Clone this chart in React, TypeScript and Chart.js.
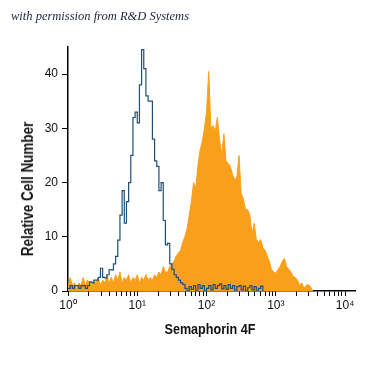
import React, { useEffect, useRef } from "react";
import { Chart, registerables } from "chart.js";

Chart.register(...registerables);

const CAPTION = "with permission from R&D Systems";
const X_TITLE = "Semaphorin 4F";
const Y_TITLE = "Relative Cell Number";

// channel grid: log-spaced bins starting at 10^0
const BINS_PER_DECADE = 32;
const X_MIN = 1;
const X_MAX = 13900;
const Y_MAX = 45;
const Y_TICKS = [0, 10, 20, 30, 40];
const DECADES = [1, 10, 100, 1000];
const MINOR_MULTIPLIERS = [1, 2, 3, 4, 5, 6, 7, 8, 9];
const DECADE_LABELS: Record<string, string> = {
  "1": "10⁰",
  "10": "10¹",
  "100": "10²",
  "1000": "10³",
  "10000": "10⁴",
};

// isotype control (blue outline)
const isotype = [
  0.5, 1, 0.5, 1, 1, 0.5, 1, 1, 0.5, 1,
  1.7, 1.5, 2, 2, 2.5, 4.2, 2.5, 2.4, 3, 3.9,
  3.9, 5, 6.4, 9.4, 14, 18.5, 12.5, 16.5, 20, 25,
  32, 33, 31, 38, 44.5, 41, 36, 35, 35, 28,
  24, 23, 18.5, 20, 13, 8.5, 8.8, 5, 4, 3,
  2.5, 2, 1.5, 1.2, 0.5, 0, 0.8, 0.3, 1, 0,
  1.2, 0.5, 1, 0, 0.5, 1, 0.2, 1.2, 0.5, 1,
  1.3, 0.4, 1, 0.3, 1.2, 0.5, 1, 0, 0.8, 1,
  0.2, 0.9, 0, 0.6, 1, 0.2, 0.8, 0, 0.5, 0.9,
  0,
];

// Semaphorin 4F stained (orange filled)
const semaphorin = [
  0.5, 2.5, 1, 1.5, 0.5, 1.5, 1, 2.5, 1, 2,
  1.5, 1, 2, 1.5, 2.5, 1, 2, 1.5, 3, 1.5,
  2.5, 1.5, 3, 2, 3.5, 1.5, 2.5, 2, 3, 1.5,
  2.5, 2, 3, 1.5, 2.5, 2, 3, 2, 2.5, 2,
  3, 2.5, 3.5, 3, 4.5, 3.5, 3.5, 4.5, 5, 5.5,
  6.5, 7, 7.5, 9, 10, 11.5, 14, 16.5, 20, 19,
  23, 26, 27.5, 30, 33, 40.5, 30, 30.5, 29.5, 32,
  28, 25, 29, 24, 23.5, 23, 21.5, 20.5, 21, 25,
  18, 17, 15, 15, 14, 10.5, 12.5, 9.5, 9, 9.5,
  8, 7.5, 6.5, 5.5, 4, 3.5, 3.3, 4, 4.5, 5.5,
  6, 4.5, 4, 3.5, 2.7, 2.5, 2, 1, 1.5, 0.5,
  1, 1.2, 0.8, 0,
];

const ORANGE = "#f8a01c";
const BLUE = "#1f4f75";
const SANS = "'Liberation Sans', Arial, sans-serif";

const toPoints = (vals: number[]) =>
  vals.map((v, i) => ({ x: Math.pow(10, i / BINS_PER_DECADE), y: v }));

export default function App() {
  const ref = useRef<HTMLCanvasElement | null>(null);

  useEffect(() => {
    if (!ref.current) return;
    const xTicks: number[] = [];
    DECADES.forEach((d) => MINOR_MULTIPLIERS.forEach((m) => xTicks.push(d * m)));
    xTicks.push(10000);

    const chart = new Chart(ref.current, {
      type: "line",
      data: {
        datasets: [
          {
            label: "Isotype",
            data: toPoints(isotype),
            borderColor: BLUE,
            borderWidth: 1.2,
            pointRadius: 0,
            stepped: true,
            fill: false,
          },
          {
            label: X_TITLE,
            data: toPoints(semaphorin),
            borderColor: ORANGE,
            backgroundColor: ORANGE,
            borderWidth: 1,
            pointRadius: 0,
            tension: 0,
            fill: "origin",
          },
        ],
      },
      options: {
        animation: false,
        responsive: true,
        maintainAspectRatio: false,
        layout: { padding: { top: 47, right: 20, left: 0, bottom: 0 } },
        plugins: {
          legend: { display: false },
          tooltip: { enabled: false },
          title: { display: false },
        },
        scales: {
          x: {
            type: "logarithmic",
            min: X_MIN,
            max: X_MAX,
            afterFit: (s: any) => {
              s.height = 84;
            },
            afterBuildTicks: (s: any) => {
              s.ticks = xTicks.map((v) => ({ value: v }));
            },
            border: { display: true, color: "#000", width: 1.5 },
            grid: {
              display: true,
              drawOnChartArea: false,
              drawTicks: true,
              tickLength: 5,
              color: "#000",
              lineWidth: 1,
            },
            ticks: {
              autoSkip: false,
              maxRotation: 0,
              minRotation: 0,
              padding: 2,
              color: "#111",
              font: { family: SANS, size: 12 },
              callback: (v: any) => DECADE_LABELS[String(v)] ?? "",
            },
            title: { display: false },
          },
          y: {
            type: "linear",
            min: 0,
            max: Y_MAX,
            afterFit: (s: any) => {
              s.width = 68;
            },
            afterBuildTicks: (s: any) => {
              s.ticks = Y_TICKS.map((v) => ({ value: v }));
            },
            border: { display: true, color: "#000", width: 1.5 },
            grid: {
              display: true,
              drawOnChartArea: false,
              drawTicks: true,
              tickLength: 6,
              color: "#000",
              lineWidth: 1,
            },
            ticks: {
              padding: 4,
              color: "#111",
              font: { family: SANS, size: 12 },
            },
            title: { display: false },
          },
        },
      },
    });
    return () => chart.destroy();
  }, []);

  return (
    <div style={{ position: "absolute", left: 0, top: 0, width: 375, height: 375, background: "#fff" }}>
      <canvas ref={ref} />
      <div
        style={{
          position: "absolute",
          left: 11,
          top: 8,
          fontFamily: "'Liberation Serif', 'DejaVu Serif', serif",
          fontStyle: "italic",
          fontSize: 12.5,
          color: "#1c2340",
          whiteSpace: "nowrap",
          lineHeight: "16px",
        }}
      >
        {CAPTION}
      </div>
      <div
        style={{
          position: "absolute",
          left: 28,
          top: 189,
          transform: "translate(-50%, -50%) rotate(-90deg) scaleX(0.84)",
          fontFamily: SANS,
          fontWeight: "bold",
          fontSize: 16,
          color: "#111",
          whiteSpace: "nowrap",
          lineHeight: "18px",
        }}
      >
        {Y_TITLE}
      </div>
      <div
        style={{
          position: "absolute",
          left: 210,
          top: 329,
          transform: "translate(-50%, -50%) scaleX(0.84)",
          fontFamily: SANS,
          fontWeight: "bold",
          fontSize: 15,
          color: "#111",
          whiteSpace: "nowrap",
          lineHeight: "18px",
        }}
      >
        {X_TITLE}
      </div>
    </div>
  );
}
